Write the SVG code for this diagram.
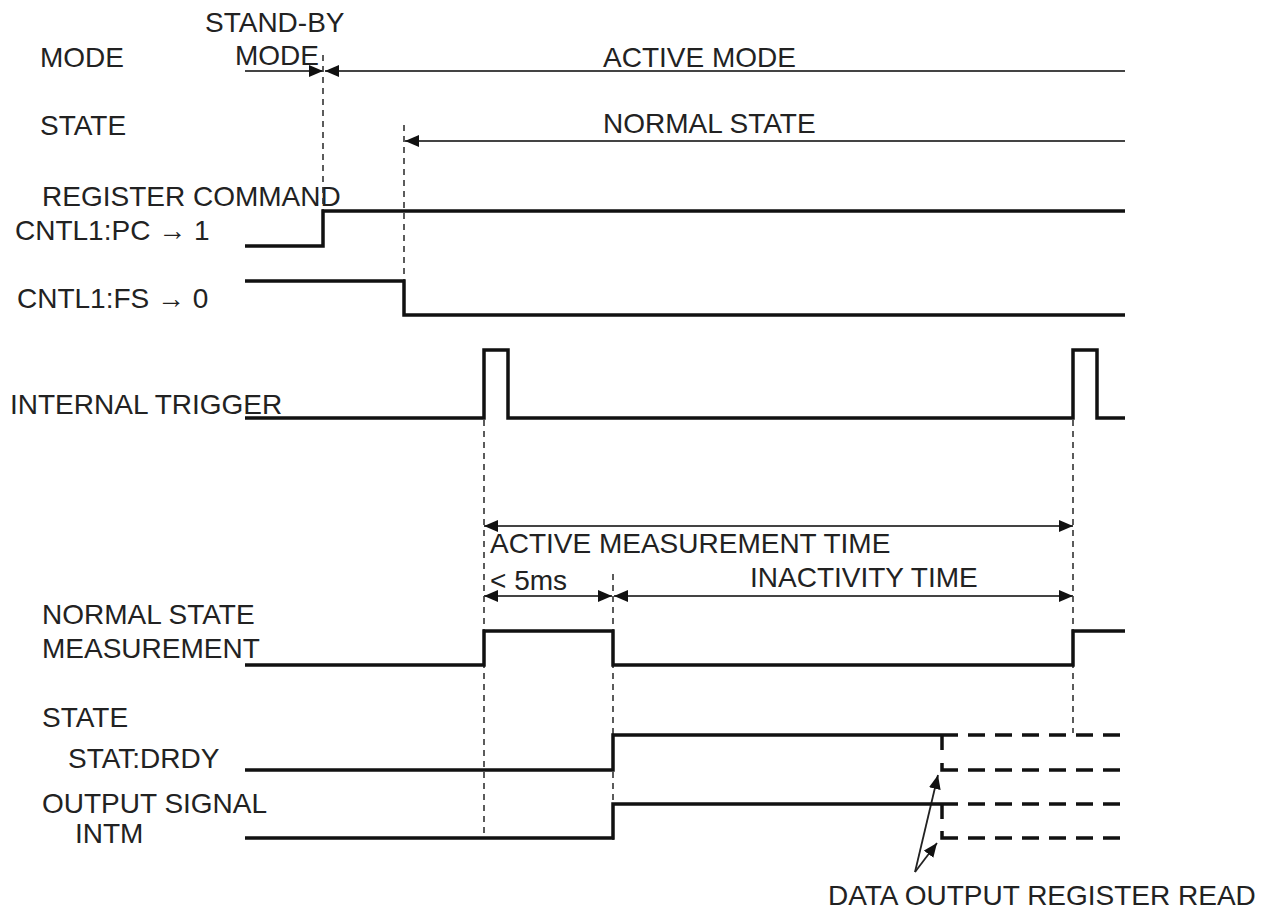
<svg xmlns="http://www.w3.org/2000/svg" width="1278" height="911" viewBox="0 0 1278 911">
<defs>
<marker id="ah" viewBox="0 0 14 12" refX="14" refY="6" markerWidth="14" markerHeight="12" markerUnits="userSpaceOnUse" orient="auto-start-reverse">
<path d="M0,0 L14,6 L0,12 z" fill="#111"/>
</marker>
<style>
text{font-family:"Liberation Sans",Arial,sans-serif;font-size:28px;fill:#222}
.sig{fill:none;stroke:#111;stroke-width:3.5;stroke-linejoin:miter}
.dsig{fill:none;stroke:#111;stroke-width:3.5;stroke-dasharray:17 10}
.guide{fill:none;stroke:#333;stroke-width:1.6;stroke-dasharray:6 5}
.dim{fill:none;stroke:#444;stroke-width:1.8}
.lead{fill:none;stroke:#222;stroke-width:1.8}
</style>
</defs>
<rect width="1278" height="911" fill="#fff"/>

<g id="labels">
<text x="205" y="32">STAND-BY</text>
<text x="235" y="65">MODE</text>
<text x="40" y="67">MODE</text>
<text x="603" y="67">ACTIVE MODE</text>
<text x="40" y="135">STATE</text>
<text x="603" y="133">NORMAL STATE</text>
<text x="42" y="206">REGISTER COMMAND</text>
<text x="15" y="240">CNTL1:PC → 1</text>
<text x="17" y="308">CNTL1:FS → 0</text>
<text x="10" y="414">INTERNAL TRIGGER</text>
<text x="490" y="553">ACTIVE MEASUREMENT TIME</text>
<text x="490" y="590">&lt; 5ms</text>
<text x="750" y="587">INACTIVITY TIME</text>
<text x="42" y="624">NORMAL STATE</text>
<text x="42" y="658">MEASUREMENT</text>
<text x="42" y="727">STATE</text>
<text x="68" y="768">STAT:DRDY</text>
<text x="42" y="813">OUTPUT SIGNAL</text>
<text x="75" y="843">INTM</text>
<text x="828" y="905">DATA OUTPUT REGISTER READ</text>
</g>

<g id="guides">
<line class="guide" x1="323" y1="55" x2="323" y2="210"/>
<line class="guide" x1="404" y1="125" x2="404" y2="315"/>
<line class="guide" x1="484" y1="420" x2="484" y2="836"/>
<line class="guide" x1="1073" y1="420" x2="1073" y2="733"/>
<line class="guide" x1="613" y1="574" x2="613" y2="840"/>
</g>

<g id="connectors">
<line class="dim" x1="245" y1="71" x2="323" y2="71" marker-end="url(#ah)"/>
<line class="dim" x1="325" y1="71" x2="1125" y2="71" marker-start="url(#ah)"/>
<line class="dim" x1="405" y1="141" x2="1125" y2="141" marker-start="url(#ah)"/>
<line class="dim" x1="484" y1="526" x2="1073" y2="526" marker-start="url(#ah)" marker-end="url(#ah)"/>
<line class="dim" x1="484" y1="596" x2="612" y2="596" marker-start="url(#ah)" marker-end="url(#ah)"/>
<line class="dim" x1="614" y1="596" x2="1073" y2="596" marker-start="url(#ah)" marker-end="url(#ah)"/>
<line class="lead" x1="915" y1="872" x2="938" y2="775" marker-end="url(#ah)"/>
<line class="lead" x1="915" y1="872" x2="937" y2="843" marker-end="url(#ah)"/>
</g>

<g id="sig-pc">
<polyline class="sig" points="245,246 323,246 323,211 1125,211"/>
</g>
<g id="sig-fs">
<polyline class="sig" points="245,281 404,281 404,315 1125,315"/>
</g>
<g id="sig-trigger">
<polyline class="sig" points="245,418 484,418 484,350 508,350 508,418 1073,418 1073,350 1097,350 1097,418 1125,418"/>
</g>
<g id="sig-measure">
<polyline class="sig" points="245,665 484,665 484,631 613,631 613,665 1073,665 1073,631 1125,631"/>
</g>
<g id="sig-drdy">
<polyline class="sig" points="245,770 613,770 613,735 958,735"/>
<polyline class="sig" points="942,735 942,750"/>
<polyline class="sig" points="942,763 942,770 958,770"/>
<line class="dsig" x1="968" y1="735" x2="1122" y2="735"/>
<line class="dsig" x1="968" y1="770" x2="1122" y2="770"/>
</g>
<g id="sig-intm">
<polyline class="sig" points="245,838 613,838 613,804 958,804"/>
<polyline class="sig" points="942,804 942,819"/>
<polyline class="sig" points="942,831 942,838 958,838"/>
<line class="dsig" x1="968" y1="804" x2="1122" y2="804"/>
<line class="dsig" x1="968" y1="838" x2="1122" y2="838"/>
</g>
</svg>
